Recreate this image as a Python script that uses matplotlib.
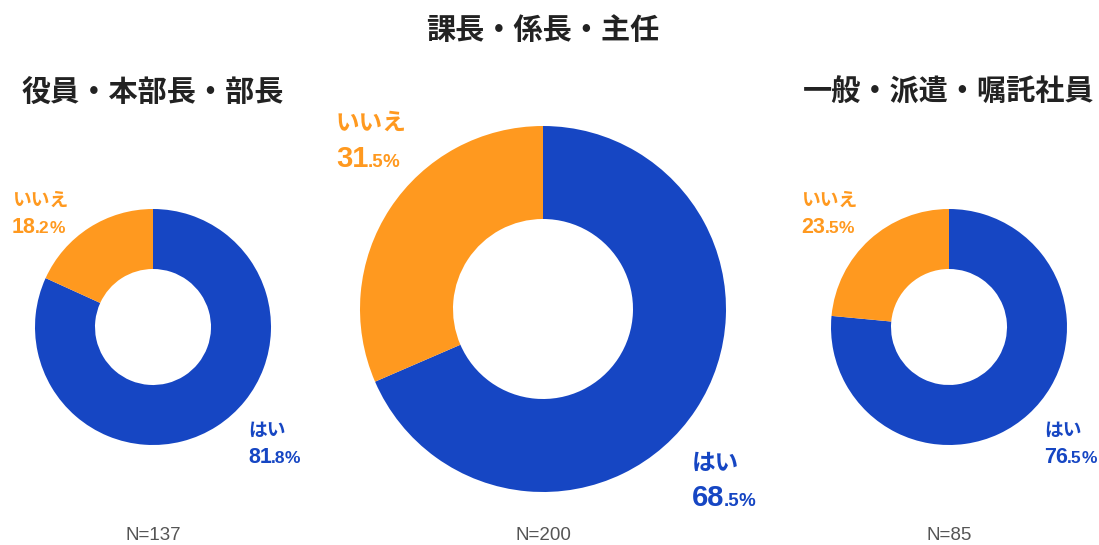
import matplotlib
matplotlib.use('Agg')
import matplotlib.pyplot as plt

titles = ['役員・本部長・部長', '課長・係長・主任', '一般・派遣・嘱託社員']
categories = ['はい', 'いいえ']
yes_pct = [81.8, 68.5, 76.5]
no_pct = [18.2, 31.5, 23.5]
n_counts = [137, 200, 85]
colors = ['#1646C3', '#FF991F']

W, H = 1099, 545
fig = plt.figure(figsize=(W / 100, H / 100), dpi=100)
ax = fig.add_axes([0, 0, 1, 1])
ax.set_xlim(0, W)
ax.set_ylim(0, H)
ax.axis('off')

JP = ['Noto Sans CJK JP', 'DejaVu Sans']
NUM = ['Liberation Sans', 'DejaVu Sans']

layout = [
    dict(cx=153, cy=327, r=118, w=60, ty=92, no=(12, 206, 233), yes=(248, 436, 463),
         lab=13.5, big=15.5, small=12.5),
    dict(cx=543, cy=309, r=183, w=93, ty=30, no=(336, 130, 167), yes=(692, 470, 506),
         lab=17, big=21, small=13.5),
    dict(cx=949, cy=327, r=118, w=60, ty=92, no=(801, 206, 233), yes=(1044, 436, 463),
         lab=13.5, big=15.5, small=12.5),
]

fig.canvas.draw()
renderer = fig.canvas.get_renderer()
inv = ax.transData.inverted()


def right_edge(t):
    bb = t.get_window_extent(renderer)
    return inv.transform((bb.x1, bb.y0))[0]


def pct_text(x, ybase, value, color, big, small):
    s = f"{value:.1f}"
    ip, dp = s.split('.')
    t1 = ax.text(x, H - ybase, ip, fontsize=big, fontweight='bold', color=color,
                 family=NUM, ha='left', va='baseline')
    x1 = right_edge(t1)
    t2 = ax.text(x1 - 0.5, H - ybase, '.' + dp, fontsize=small, fontweight='bold',
                 color=color, family=NUM, ha='left', va='baseline')
    x2 = right_edge(t2)
    ax.text(x2 - 0.8, H - ybase, '%', fontsize=small, fontweight='semibold',
            color=color, family=NUM, ha='left', va='baseline')


for i, L in enumerate(layout):
    vals = [yes_pct[i], no_pct[i]]
    ax.pie(vals, colors=colors, startangle=90, counterclock=False,
           center=(L['cx'], H - L['cy']), radius=L['r'],
           wedgeprops=dict(width=L['w'], edgecolor='none', linewidth=0),
           frame=True)
    ax.text(L['cx'], H - L['ty'], titles[i], fontsize=21, fontweight='bold',
            color='#222222', family=JP, ha='center', va='center')
    ax.text(L['cx'], H - 535, f"N={n_counts[i]}", fontsize=13.5, color='#555555',
            family=NUM, ha='center', va='center')
    nx, ny1, ny2 = L['no']
    ax.text(nx, H - ny1, categories[1], fontsize=L['lab'], fontweight='bold',
            color=colors[1], family=JP, ha='left', va='baseline')
    pct_text(nx, ny2, no_pct[i], colors[1], L['big'], L['small'])
    yx, yy1, yy2 = L['yes']
    ax.text(yx, H - yy1, categories[0], fontsize=L['lab'], fontweight='bold',
            color=colors[0], family=JP, ha='left', va='baseline')
    pct_text(yx, yy2, yes_pct[i], colors[0], L['big'], L['small'])

ax.set_xlim(0, W)
ax.set_ylim(0, H)
ax.set_aspect('auto')
ax.axis('off')
fig.savefig('out.png', dpi=100)
